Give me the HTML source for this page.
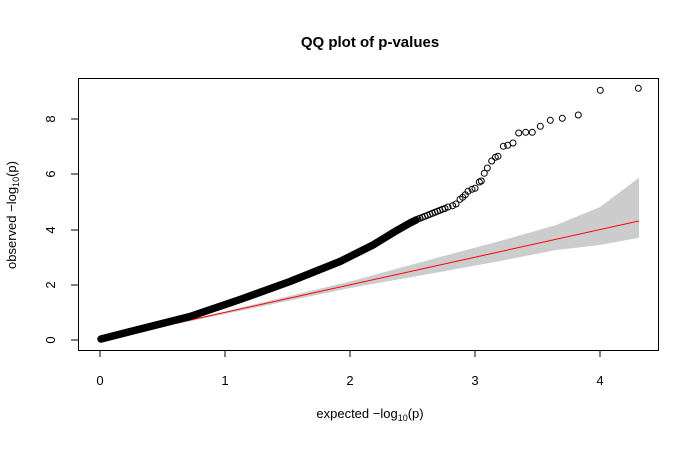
<!DOCTYPE html>
<html><head><meta charset="utf-8"><style>html,body{margin:0;background:#fff}</style></head>
<body>
<svg width="700" height="448" xmlns="http://www.w3.org/2000/svg" font-family="Liberation Sans, Arial, sans-serif">
<rect width="700" height="448" fill="#fff"/>
<polygon fill="#cccccc" points="100,340 225,311.5 350,281.5 440,257 500,241 556.3,225 600,207 639,177.7 639,237.7 600,245 556.3,250 500,261 440,272 350,288 100,340"/>
<line x1="100" y1="340" x2="639" y2="221" stroke="#ff0000" stroke-width="1"/>
<path d="M101,339 L190,316.5 L240,299.5 L290,281.5 L340,261.5 L373,245 L395,231.5 L410,223 L416,220" fill="none" stroke="#000" stroke-width="7.5" stroke-linecap="round" stroke-linejoin="round"/>
<g fill="none" stroke="#000" stroke-width="1">
<circle cx="418" cy="219" r="3"/><circle cx="420" cy="218.3" r="3"/><circle cx="422.5" cy="217.3" r="3"/><circle cx="425" cy="216.3" r="3"/><circle cx="427.5" cy="215.3" r="3"/><circle cx="430" cy="214.3" r="3"/><circle cx="432.5" cy="213.3" r="3"/><circle cx="435" cy="212.3" r="3"/><circle cx="437.5" cy="211.3" r="3"/><circle cx="440" cy="210.3" r="3"/><circle cx="442.5" cy="209.3" r="3"/>
<circle cx="445" cy="208.5" r="3"/><circle cx="448" cy="207" r="3"/><circle cx="452.7" cy="205.7" r="3"/><circle cx="456" cy="204" r="3"/><circle cx="460" cy="199.3" r="3"/><circle cx="462.7" cy="197.3" r="3"/><circle cx="465.3" cy="194.7" r="3"/><circle cx="468" cy="191.3" r="3"/><circle cx="472" cy="189.3" r="3"/><circle cx="475" cy="188.3" r="3"/><circle cx="479.3" cy="182" r="3"/><circle cx="481.3" cy="181" r="3"/><circle cx="484.3" cy="173.3" r="3"/><circle cx="487.3" cy="168" r="3"/><circle cx="491.7" cy="161" r="3"/><circle cx="495.3" cy="157.3" r="3"/><circle cx="498" cy="156.3" r="3"/><circle cx="503.3" cy="146.3" r="3"/><circle cx="507.7" cy="145.3" r="3"/><circle cx="513" cy="143" r="3"/><circle cx="518.7" cy="133" r="3"/><circle cx="525.7" cy="132.3" r="3"/><circle cx="532.3" cy="132.3" r="3"/><circle cx="540.3" cy="126.3" r="3"/><circle cx="550.3" cy="120.3" r="3"/><circle cx="562.3" cy="118.3" r="3"/><circle cx="578.3" cy="115" r="3"/><circle cx="600.3" cy="90.3" r="3"/><circle cx="638.3" cy="88.3" r="3"/>
</g>
<rect x="78.5" y="78.5" width="580" height="272" fill="none" stroke="#000" stroke-width="1"/>
<g stroke="#000" stroke-width="1">
<line x1="100" y1="350.5" x2="600.5" y2="350.5"/>
<line x1="100" y1="350" x2="100" y2="357"/><line x1="225" y1="350" x2="225" y2="357"/>
<line x1="350" y1="350" x2="350" y2="357"/><line x1="475" y1="350" x2="475" y2="357"/>
<line x1="600" y1="350" x2="600" y2="357"/>
<line x1="78.5" y1="119" x2="78.5" y2="340"/>
<line x1="71" y1="340" x2="78" y2="340"/><line x1="71" y1="285" x2="78" y2="285"/>
<line x1="71" y1="230" x2="78" y2="230"/><line x1="71" y1="174" x2="78" y2="174"/>
<line x1="71" y1="119" x2="78" y2="119"/>
</g>
<g font-size="13" text-anchor="middle" fill="#000">
<text x="100" y="385">0</text><text x="225" y="385">1</text><text x="350" y="385">2</text>
<text x="475" y="385">3</text><text x="600" y="385">4</text>
<text transform="translate(55,340) rotate(-90)">0</text>
<text transform="translate(55,285) rotate(-90)">2</text>
<text transform="translate(55,230) rotate(-90)">4</text>
<text transform="translate(55,174) rotate(-90)">6</text>
<text transform="translate(55,119) rotate(-90)">8</text>
<text x="370" y="418">expected −log<tspan font-size="9" dy="3">10</tspan><tspan dy="-3">(p)</tspan></text>
<text transform="translate(16,215) rotate(-90)">observed −log<tspan font-size="9" dy="3">10</tspan><tspan dy="-3">(p)</tspan></text>
<text x="370" y="47" font-size="15" font-weight="bold">QQ plot of p-values</text>
</g>
</svg>
</body></html>
